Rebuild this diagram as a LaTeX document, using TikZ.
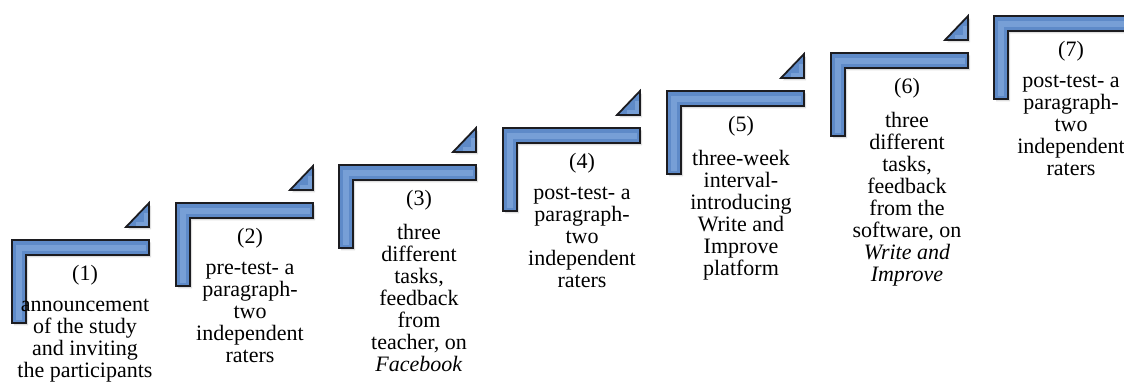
\documentclass[tikz,border=0pt]{standalone}
\usepackage{fontspec}
\setmainfont{Liberation Serif}
\usetikzlibrary{shadows}
\definecolor{stepblue}{RGB}{94,138,200}
\definecolor{steplight}{RGB}{140,178,226}
\definecolor{stepline}{RGB}{28,28,32}
\tikzset{
  step shape/.style = {
    fill = stepblue,
    draw = stepline,
    line width = 0.9pt,
    line join = miter,
    drop shadow = {opacity = 0.25, shadow xshift = 1pt, shadow yshift = -1.2pt}},
  step shine/.style = {
    draw = steplight,
    line width = 3pt,
    opacity = 0.55},
  step num/.style = {
    font = \fontsize{11pt}{11pt}\selectfont,
    inner sep = 0pt,
    anchor = base},
  step text/.style = {
    font = \fontsize{11pt}{11pt}\selectfont,
    align = center,
    inner sep = 0pt,
    anchor = north,
    execute at begin node = \strut},
  step corner/.pic = {
    \path[step shape] (0,0) -- (137,0) -- (137,15) -- (14,15) -- (14,83) -- (0,83) -- cycle;
    \draw[step shine] (7,80) -- (7,7.5) -- (134,7.5);
  },
  step arrow/.pic = {
    \path[step shape] (114,-13) -- (137,-13) -- (137,-37) -- cycle;
    \draw[step shine, line width = 2pt] (124,-16.5) -- (134,-16.5) -- (134,-27);
  }
}

\begin{document}
\begin{tikzpicture}[x = 0.5pt, y = -0.5pt, thick, nodes = {align = center}]
  \useasboundingbox (0,0) rectangle (1124,387);
  \clip (0,0) rectangle (1124,387);
  % steps
  \pic at (12,240)  {step corner};
  \pic at (12,240)  {step arrow};
  \pic at (176,203) {step corner};
  \pic at (176,203) {step arrow};
  \pic at (339,165) {step corner};
  \pic at (339,165) {step arrow};
  \pic at (503,128) {step corner};
  \pic at (503,128) {step arrow};
  \pic at (667,91)  {step corner};
  \pic at (667,91)  {step arrow};
  \pic at (831,53)  {step corner};
  \pic at (831,53)  {step arrow};
  \pic at (994,16)  {step corner};
  % labels
  \node[step num] (num1) at (85,280) {(1)};
  \node[step text] (announce) at (85,298) {announcement\\of the study\\and inviting\\the participants};
  \node[step num] (num2) at (250,243) {(2)};
  \node[step text] (pretest) at (250,261) {pre-test- a\\paragraph-\\two\\independent\\raters};
  \node[step num] (num3) at (419,205) {(3)};
  \node[step text] (teacher) at (419,223) {three\\different\\tasks,\\feedback\\from\\teacher, on\\\textit{Facebook}};
  \node[step num] (num4) at (582,168) {(4)};
  \node[step text] (posttest) at (582,186) {post-test- a\\paragraph-\\two\\independent\\raters};
  \node[step num] (num5) at (741,131) {(5)};
  \node[step text] (interval) at (741,149) {three-week\\interval-\\introducing\\Write and\\Improve\\platform};
  \node[step num] (num6) at (907,93) {(6)};
  \node[step text] (software) at (907,111) {three\\different\\tasks,\\feedback\\from the\\software, on\\\textit{Write and}\\\textit{Improve}};
  \node[step num] (num7) at (1071,56) {(7)};
  \node[step text] (delayed) at (1071,74) {post-test- a\\paragraph-\\two\\independent\\raters};
\end{tikzpicture}
\end{document}
